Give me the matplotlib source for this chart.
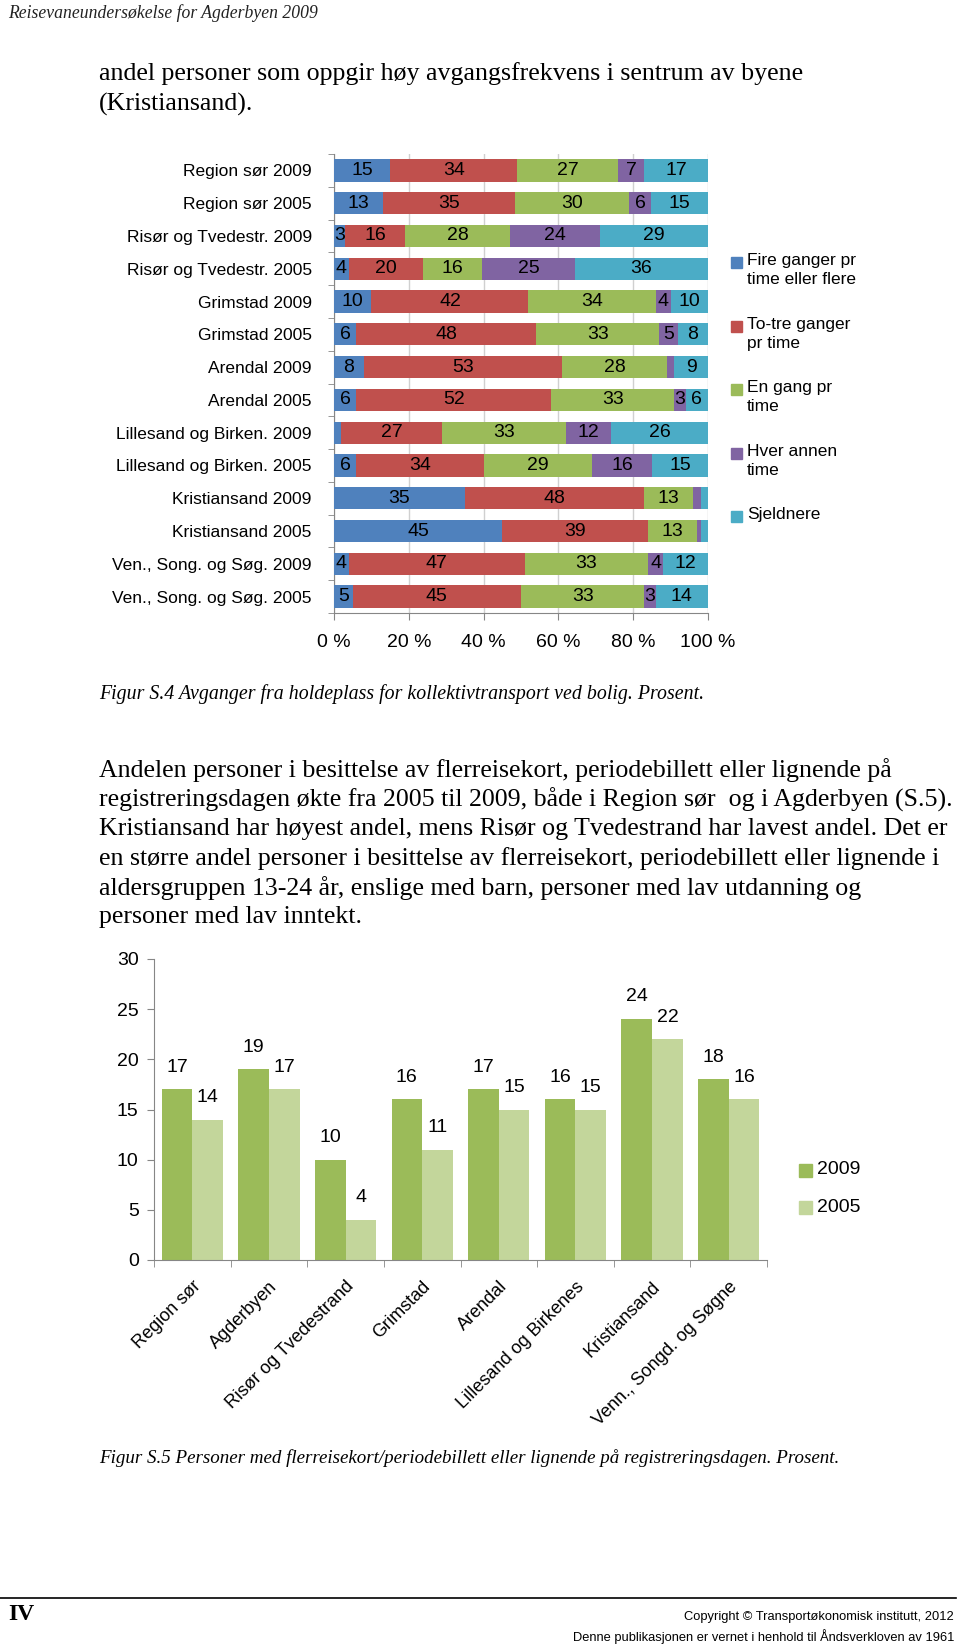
import matplotlib
matplotlib.use("Agg")
import matplotlib.pyplot as plt
from matplotlib.patches import Rectangle
import numpy as np

W, H = 960, 1647
SANS = ["Liberation Sans", "DejaVu Sans"]
SERIF = ["Liberation Serif", "DejaVu Serif"]
plt.rcParams["font.family"] = SANS

# -------- data, figur S.4 --------
rader = ["Region sør 2009", "Region sør 2005", "Risør og Tvedestr. 2009",
         "Risør og Tvedestr. 2005", "Grimstad 2009", "Grimstad 2005",
         "Arendal 2009", "Arendal 2005", "Lillesand og Birken. 2009",
         "Lillesand og Birken. 2005", "Kristiansand 2009", "Kristiansand 2005",
         "Ven., Song. og Søg. 2009", "Ven., Song. og Søg. 2005"]
fire_pr_time = [15, 13, 3, 4, 10, 6, 8, 6, 2, 6, 35, 45, 4, 5]
to_tre = [34, 35, 16, 20, 42, 48, 53, 52, 27, 34, 48, 39, 47, 45]
en_gang = [27, 30, 28, 16, 34, 33, 28, 33, 33, 29, 13, 13, 33, 33]
hver_annen = [7, 6, 24, 25, 4, 5, 2, 3, 12, 16, 2, 1, 4, 3]
sjeldnere = [17, 15, 29, 36, 10, 8, 9, 6, 26, 15, 2, 2, 12, 14]
serier = ["Fire ganger pr\ntime eller flere", "To-tre ganger\npr time",
          "En gang pr\ntime", "Hver annen\ntime", "Sjeldnere"]
farger = ["#4F81BD", "#C0504D", "#9BBB59", "#8064A2", "#4BACC6"]
x_ticks = [0, 20, 40, 60, 80, 100]

# -------- data, figur S.5 --------
steder = ["Region sør", "Agderbyen", "Risør og Tvedestrand", "Grimstad",
          "Arendal", "Lillesand og Birkenes", "Kristiansand",
          "Venn., Songd. og Søgne"]
aar_2009 = [17, 19, 10, 16, 17, 16, 24, 18]
aar_2005 = [14, 17, 4, 11, 15, 15, 22, 16]
y_ticks = [0, 5, 10, 15, 20, 25, 30]

GRA = "#868686"
BODY = 18.6

fig = plt.figure(figsize=(W / 100, H / 100), dpi=100)


def px_axes(l, t, r, b):
    return fig.add_axes([l / W, 1 - b / H, (r - l) / W, (b - t) / H])


def ftext(x, y, s, **kw):
    return fig.text(x / W, 1 - y / H, s, **kw)


# -------- sidetekst --------
ftext(8, 13, "Reisevaneundersøkelse for Agderbyen 2009", family=SERIF,
      style="italic", fontsize=12.7, va="center", color="#222222")
ftext(99, 74, "andel personer som oppgir høy avgangsfrekvens i sentrum av byene",
      family=SERIF, fontsize=BODY, va="center")
ftext(99, 104, "(Kristiansand).", family=SERIF, fontsize=BODY, va="center")
ftext(99, 694, "Figur S.4 Avganger fra holdeplass for kollektivtransport ved bolig. Prosent.",
      family=SERIF, style="italic", fontsize=14.3, va="center")
avsnitt = [
    "Andelen personer i besittelse av flerreisekort, periodebillett eller lignende på",
    "registreringsdagen økte fra 2005 til 2009, både i Region sør  og i Agderbyen (S.5).",
    "Kristiansand har høyest andel, mens Risør og Tvedestrand har lavest andel. Det er",
    "en større andel personer i besittelse av flerreisekort, periodebillett eller lignende i",
    "aldersgruppen 13-24 år, enslige med barn, personer med lav utdanning og",
    "personer med lav inntekt.",
]
for i, linje in enumerate(avsnitt):
    ftext(99, 770 + i * 29.4, linje, family=SERIF, fontsize=BODY, va="center")
ftext(99, 1458, "Figur S.5 Personer med flerreisekort/periodebillett eller lignende på registreringsdagen. Prosent.",
      family=SERIF, style="italic", fontsize=13.7, va="center")

# bunntekst
fig.add_artist(plt.Line2D([0, 956 / W], [1 - 1598 / H, 1 - 1598 / H], color="black", lw=1.2))
ftext(8, 1615, "IV", family=SERIF, fontweight="bold", fontsize=17, va="center")
ftext(954, 1617, "Copyright © Transportøkonomisk institutt, 2012", fontsize=9.3,
      ha="right", va="center")
ftext(954, 1637, "Denne publikasjonen er vernet i henhold til Åndsverkloven av 1961",
      fontsize=9.3, ha="right", va="center")

# -------- figur S.4: stablet 100 % --------
ax1 = px_axes(334, 154, 708, 613)
data = np.array([fire_pr_time, to_tre, en_gang, hver_annen, sjeldnere], dtype=float)
andel = data / data.sum(axis=0) * 100
ypos = np.arange(len(rader))
venstre = np.zeros(len(rader))
for verdier, rå, farge in zip(andel, data, farger):
    bars = ax1.barh(ypos, verdier, left=venstre, height=0.68, color=farge, zorder=3)
    ax1.bar_label(bars, labels=[f"{v:.0f}" if v >= 3 else "" for v in rå],
                  label_type="center", fontsize=14, color="black")
    venstre += verdier

ax1.set_xlim(0, 100)
ax1.set_ylim(len(rader) - 0.5, -0.5)
ax1.set_xticks(x_ticks)
ax1.set_xticklabels([f"{t} %" for t in x_ticks], fontsize=14)
ax1.set_yticks(ypos)
ax1.set_yticklabels(rader, fontsize=12.5)
ax1.set_yticks(np.arange(len(rader) + 1) - 0.5, minor=True)
ax1.tick_params(axis="y", which="major", length=0, pad=16)
ax1.tick_params(axis="y", which="minor", length=4, color=GRA)
ax1.tick_params(axis="x", length=5, color=GRA, pad=10)
ax1.xaxis.grid(True, color="#d0d0d0", lw=1, zorder=0)
ax1.set_axisbelow(True)
for side in ["top", "right"]:
    ax1.spines[side].set_visible(False)
for side in ["left", "bottom"]:
    ax1.spines[side].set_color(GRA)

# tegnforklaring
for i, (navn, farge) in enumerate(zip(serier, farger)):
    yc = 263 + i * 63.5
    fig.add_artist(Rectangle((731 / W, 1 - (yc + 5) / H), 11 / W, 11 / H,
                             transform=fig.transFigure, color=farge))
    ftext(747, yc - 10, navn, fontsize=12.5, va="top", linespacing=1.35)

# -------- figur S.5: grupperte søyler --------
ax2 = px_axes(154, 959, 767, 1260)
x = np.arange(len(steder))
b1 = ax2.bar(x - 0.2, aar_2009, width=0.4, color="#9BBB59", label="2009")
b2 = ax2.bar(x + 0.2, aar_2005, width=0.4, color="#C3D69B", label="2005")
for bars in (b1, b2):
    for rect in bars:
        ax2.annotate(f"{rect.get_height():.0f}",
                     (rect.get_x() + rect.get_width() / 2, rect.get_height()),
                     xytext=(0, 16), textcoords="offset points",
                     ha="center", va="center", fontsize=14)
ax2.set_ylim(0, 30)
ax2.set_xlim(-0.5, len(steder) - 0.5)
ax2.set_yticks(y_ticks)
ax2.set_yticklabels([str(t) for t in y_ticks], fontsize=14)
ax2.set_xticks(x)
ax2.set_xticklabels(steder, fontsize=13, rotation=45, ha="right", va="top",
                    rotation_mode="anchor")
ax2.set_xticks(np.arange(len(steder) + 1) - 0.5, minor=True)
ax2.tick_params(axis="x", which="major", length=0, pad=13)
ax2.tick_params(axis="x", which="minor", length=5, color=GRA)
ax2.tick_params(axis="y", length=5, color=GRA, pad=6)
for side in ["top", "right"]:
    ax2.spines[side].set_visible(False)
for side in ["left", "bottom"]:
    ax2.spines[side].set_color(GRA)

for i, (navn, farge) in enumerate([("2009", "#9BBB59"), ("2005", "#C3D69B")]):
    yc = 1170 + i * 37
    fig.add_artist(Rectangle((799 / W, 1 - (yc + 7) / H), 13 / W, 13 / H,
                             transform=fig.transFigure, color=farge))
    ftext(817, yc, navn, fontsize=14, va="center")

fig.savefig("out.png", dpi=100)
